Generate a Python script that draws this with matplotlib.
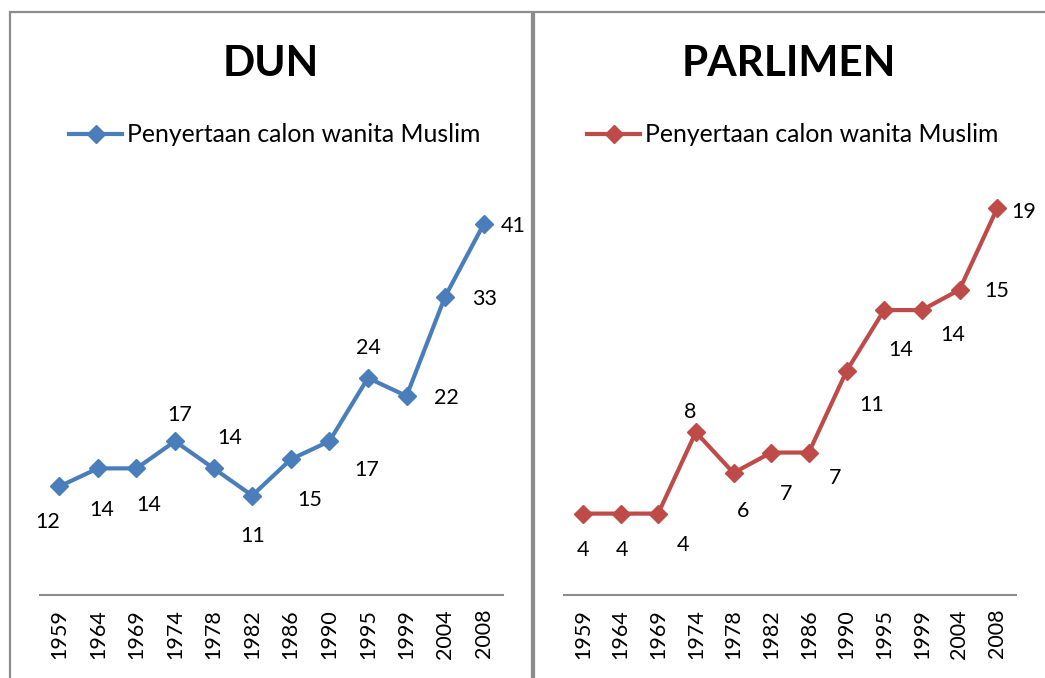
import matplotlib
matplotlib.use("Agg")
import matplotlib.pyplot as plt
from matplotlib.patches import Rectangle

plt.rcParams['font.family'] = ['Lato', 'DejaVu Sans']

years = ['1959', '1964', '1969', '1974', '1978', '1982', '1986', '1990',
         '1995', '1999', '2004', '2008']
dun = [12, 14, 14, 17, 14, 11, 15, 17, 24, 22, 33, 41]
parlimen = [4, 4, 4, 8, 6, 7, 7, 11, 14, 14, 15, 19]
series_name = 'Penyertaan calon wanita Muslim'

# label offsets in pixels (dx, dy) relative to each point
dun_offsets = [(-12, -36), (4, -42), (12, -37), (5, 26), (16, 30), (0, -40),
               (19, -41), (37, -29), (0, 30), (40, -2), (39, -2), (29, -2)]
par_offsets = [(0, -36), (2, -36), (25, -31), (-6, 20), (10, -38), (15, -41),
               (26, -25), (25, -34), (17, -40), (31, -25), (37, -1), (27, -4)]

W, H = 1045, 678
fig = plt.figure(figsize=(W / 100, H / 100), dpi=100)

def fx(px):
    return px / W

def fy(py):
    return 1 - py / H

# panel borders
for x0, x1 in [(10, 532), (534, 1060)]:
    fig.add_artist(Rectangle((fx(x0), fy(700)), fx(x1 - x0), (700 - 12) / H,
                             transform=fig.transFigure, fill=False,
                             edgecolor='#8c8c8c', linewidth=1.6))

panels = [
    ('DUN', dun, dun_offsets, '#4A7EBB', 45, 40, 503, 271),
    ('PARLIMEN', parlimen, par_offsets, '#BE4B48', 20, 564, 1016, 789),
]

for title, vals, offs, color, ymax, xl, xr, tc in panels:
    ax = fig.add_axes([fx(xl), fy(595), fx(xr - xl), (595 - 188) / H])
    x = list(range(len(years)))
    ax.plot(x, vals, color=color, linewidth=3, marker='D', markersize=9,
            label=series_name)
    for xi, v, (dx, dy) in zip(x, vals, offs):
        ax.annotate(str(v), (xi, v), xytext=(dx, dy), textcoords='offset pixels',
                    ha='center', va='center', fontsize=15.5, color='black')
    ax.set_xlim(-0.5, len(years) - 0.5)
    ax.set_ylim(0, ymax)
    ax.set_xticks(x)
    ax.set_xticklabels(years, rotation=90, fontsize=15.5)
    ax.tick_params(axis='x', length=0, pad=10)
    ax.set_yticks([])
    for s in ['top', 'right', 'left']:
        ax.spines[s].set_visible(False)
    ax.spines['bottom'].set_color('#8c8c8c')
    ax.spines['bottom'].set_linewidth(1.5)
    ax.patch.set_alpha(0)
    ax.legend(loc='center', bbox_to_anchor=(fx(tc + 4), fy(135)),
              bbox_transform=fig.transFigure, frameon=False, fontsize=17.8,
              handlelength=2.15, handletextpad=0.2, borderpad=0)
    fig.text(fx(tc), fy(64), title, ha='center', va='center', fontsize=30.5,
             fontweight='bold')

fig.savefig('out.png', dpi=100)
